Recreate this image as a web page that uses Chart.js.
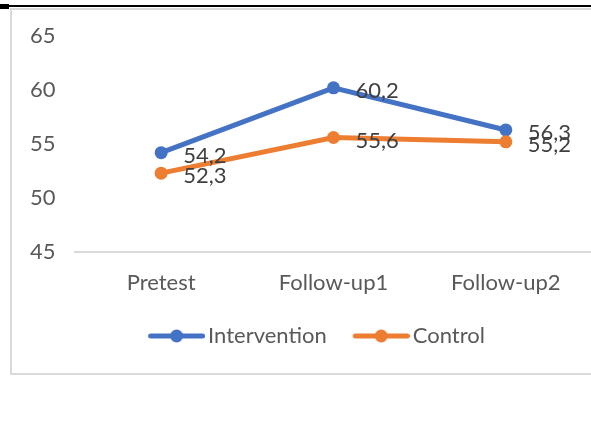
<!DOCTYPE html>
<html>
<head>
<meta charset="utf-8">
<script src="https://cdn.jsdelivr.net/npm/chart.js@4.4.1/dist/chart.umd.min.js"></script>
<style>
  html, body { margin: 0; padding: 0; background: #fff; overflow: hidden; width: 591px; height: 443px; }
  #topRule { position: absolute; left: 0; top: 5px; width: 591px; height: 2px; background: #000; }
  #topTab { position: absolute; left: 0; top: 4px; width: 9px; height: 5px; background: #000; }
  #frame { position: absolute; left: 10px; top: 8px; width: 600px; height: 367px; border: 2px solid #d9d9d9; box-sizing: border-box; }
  #wrap { position: absolute; left: 0; top: 0; width: 600px; height: 357px; }
</style>
</head>
<body>
<div id="topRule"></div>
<div id="topTab"></div>
<div id="frame"></div>
<div id="wrap"><canvas id="c"></canvas></div>
<script>
// Measurement occasions and group means
const categories = ['Pretest', 'Follow-up1', 'Follow-up2'];
const interventionValues = [54.2, 60.2, 56.3];
const controlValues = [52.3, 55.6, 55.2];
const seriesNames = ['Intervention', 'Control'];
const yMin = 45, yMax = 65, yStep = 5;

const BLUE = '#4472C4';
const ORANGE = '#ED7D31';
const FONT = 'Lato';
const FONT_SIZE = 22;

// Decimal comma, one decimal place
const fmt = v => v.toFixed(1).replace('.', ',');

// Legend marker: short thick line with a dot in the middle.
// The canvas is wider on the left so the line sits just before the label.
function lineMarker(color) {
  const c = document.createElement('canvas');
  c.width = 66; c.height = 14;
  const g = c.getContext('2d');
  g.strokeStyle = color;
  g.lineWidth = 5;
  g.lineCap = 'round';
  g.beginPath(); g.moveTo(11.5, 7); g.lineTo(63.5, 7); g.stroke();
  g.fillStyle = color;
  g.beginPath(); g.arc(37.5, 7, 6.5, 0, Math.PI * 2); g.fill();
  return c;
}
const markers = [lineMarker(BLUE), lineMarker(ORANGE)];

// Value labels to the right of every point
const valueLabels = {
  id: 'valueLabels',
  afterDatasetsDraw(chart) {
    const ctx = chart.ctx;
    ctx.save();
    ctx.font = FONT_SIZE + 'px ' + FONT;
    ctx.fillStyle = '#404040';
    ctx.textAlign = 'left';
    ctx.textBaseline = 'middle';
    chart.data.datasets.forEach((ds, i) => {
      chart.getDatasetMeta(i).data.forEach((pt, j) => {
        ctx.fillText(fmt(ds.data[j]), pt.x + 22, pt.y + 3);
      });
    });
    ctx.restore();
  }
};

new Chart(document.getElementById('c'), {
  type: 'line',
  data: {
    labels: categories,
    datasets: [
      {
        label: seriesNames[0], data: interventionValues, order: 1,
        borderColor: BLUE, backgroundColor: BLUE, borderWidth: 5,
        pointRadius: 6.5, pointBackgroundColor: BLUE, pointBorderColor: BLUE, pointBorderWidth: 0,
        tension: 0
      },
      {
        label: seriesNames[1], data: controlValues, order: 0,
        borderColor: ORANGE, backgroundColor: ORANGE, borderWidth: 5,
        pointRadius: 6.5, pointBackgroundColor: ORANGE, pointBorderColor: ORANGE, pointBorderWidth: 0,
        tension: 0
      }
    ]
  },
  options: {
    responsive: true,
    maintainAspectRatio: false,
    animation: false,
    layout: { padding: { left: 40, right: 8, top: 36, bottom: 0 } },
    plugins: {
      tooltip: { enabled: false },
      legend: {
        position: 'bottom',
        align: 'center',
        labels: {
          usePointStyle: true,
          pointStyleWidth: 50,
          padding: 25,
          color: '#595959',
          font: { family: FONT, size: FONT_SIZE },
          generateLabels: chart => seriesNames.map((name, i) => ({
            text: name,
            pointStyle: markers[i],
            fillStyle: i === 0 ? BLUE : ORANGE,
            strokeStyle: i === 0 ? BLUE : ORANGE,
            lineWidth: 0,
            fontColor: '#595959',
            datasetIndex: i,
            hidden: false
          }))
        }
      }
    },
    scales: {
      x: {
        offset: true,
        grid: { display: false, drawTicks: false },
        border: { display: true, color: '#d9d9d9', width: 2 },
        ticks: { color: '#595959', font: { family: FONT, size: FONT_SIZE }, padding: 18, maxRotation: 0 },
        afterFit: s => { s.height = 48; }
      },
      y: {
        min: yMin, max: yMax,
        grid: { display: false, drawTicks: false },
        border: { display: false },
        ticks: { stepSize: yStep, color: '#595959', font: { family: FONT, size: FONT_SIZE }, mirror: true, padding: -45 },
        afterFit: s => { s.width = 35; }
      }
    }
  },
  plugins: [valueLabels]
});
</script>
</body>
</html>
